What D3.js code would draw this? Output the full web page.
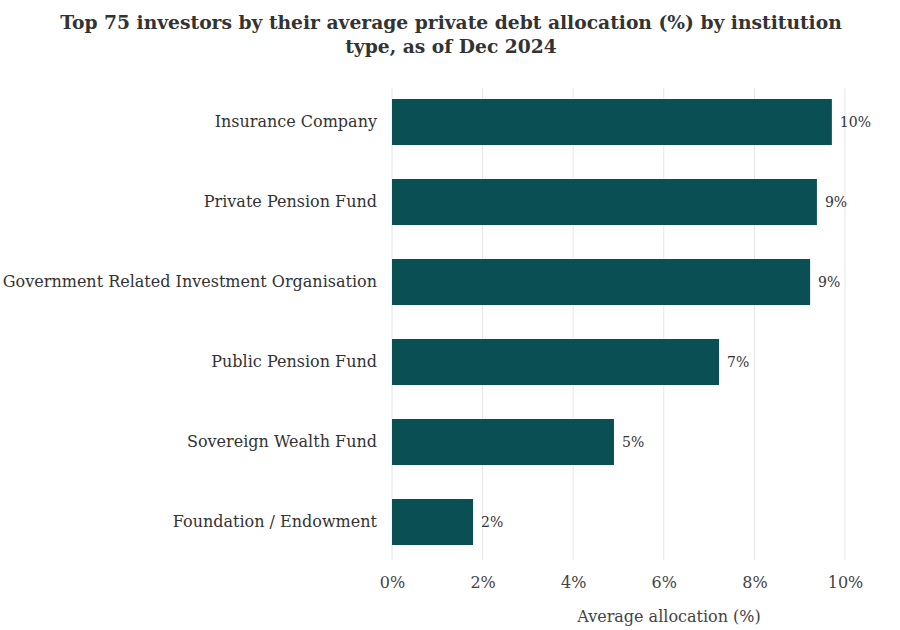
<!doctype html>
<html lang="en">
  <head>
    <meta charset="utf-8">
    <title>Private debt allocation by institution type</title>
    <script src="https://d3js.org/d3.v7.min.js"></script>
    <style>
      body { margin: 0; background: #fff; }
      text { font-family: "DejaVu Serif", Georgia, serif; }
    </style>
  </head>
  <body>
    <div class="holder"></div>
    <script>
      const categories = [
        'Insurance Company',
        'Private Pension Fund',
        'Government Related Investment Organisation',
        'Public Pension Fund',
        'Sovereign Wealth Fund',
        'Foundation / Endowment'
      ]
      const values = [9.71, 9.38, 9.23, 7.22, 4.90, 1.79]
      const valueLabels = ['10%', '9%', '9%', '7%', '5%', '2%']
      const xTicks = [0, 2, 4, 6, 8, 10]

      const w = 900
      const h = 630
      const plotLeft = 392
      const plotRight = 845
      const plotTop = 82
      const plotBottom = 562

      const svg = d3.select('.holder')
        .append('svg')
        .attr('width', w)
        .attr('height', h)

      const xScale = d3.scaleLinear()
        .domain([0, 10])
        .range([plotLeft, plotRight])

      const yScale = d3.scaleBand()
        .domain(categories)
        .range([plotTop, plotBottom])
        .paddingInner(0.425)
        .paddingOuter(0.2125)

      // gridlines
      svg.append('g')
        .selectAll('line')
        .data(xTicks)
        .enter()
        .append('line')
        .attr('x1', d => xScale(d))
        .attr('x2', d => xScale(d))
        .attr('y1', plotTop + 6)
        .attr('y2', plotBottom - 2)
        .attr('stroke', '#e6e6e6')
        .attr('stroke-width', 1)

      // bars
      svg.selectAll('rect.bar')
        .data(values)
        .enter()
        .append('rect')
        .attr('class', 'bar')
        .attr('x', xScale(0))
        .attr('y', (d, i) => yScale(categories[i]))
        .attr('width', d => xScale(d) - xScale(0))
        .attr('height', yScale.bandwidth())
        .attr('fill', '#0a4f54')

      // value labels
      svg.selectAll('text.val')
        .data(values)
        .enter()
        .append('text')
        .attr('class', 'val')
        .attr('x', d => xScale(d) + 8)
        .attr('y', (d, i) => yScale(categories[i]) + yScale.bandwidth() / 2)
        .attr('dy', '0.35em')
        .attr('font-size', 14)
        .attr('fill', '#333')
        .text((d, i) => valueLabels[i])

      // y axis (category labels)
      const yAxis = d3.axisLeft(yScale).tickSize(0).tickPadding(15)
      const gy = svg.append('g')
        .attr('transform', 'translate(' + plotLeft + ',0)')
        .call(yAxis)
      gy.select('.domain').remove()
      gy.selectAll('text')
        .attr('font-size', 16)
        .attr('fill', '#333')
        .style('font-family', '"DejaVu Serif", Georgia, serif')

      // x axis
      const xAxis = d3.axisBottom(xScale)
        .tickValues(xTicks)
        .tickFormat(d => d + '%')
        .tickSize(0)
        .tickPadding(10)
      const gx = svg.append('g')
        .attr('transform', 'translate(0,' + (plotBottom + 5) + ')')
        .call(xAxis)
      gx.select('.domain').remove()
      gx.selectAll('text')
        .attr('font-size', 16)
        .attr('fill', '#444')
        .style('font-family', '"DejaVu Serif", Georgia, serif')

      // axis title
      svg.append('text')
        .attr('x', 669)
        .attr('y', 622)
        .attr('text-anchor', 'middle')
        .attr('font-size', 16)
        .attr('fill', '#444')
        .text('Average allocation (%)')

      // title
      const title = svg.append('text')
        .attr('text-anchor', 'middle')
        .attr('font-size', 18.7)
        .attr('font-weight', 'bold')
        .attr('fill', '#333')
      title.append('tspan')
        .attr('x', 451)
        .attr('y', 29)
        .text('Top 75 investors by their average private debt allocation (%) by institution')
      title.append('tspan')
        .attr('x', 451)
        .attr('y', 53)
        .text('type, as of Dec 2024')
    </script>
  </body>
</html>
